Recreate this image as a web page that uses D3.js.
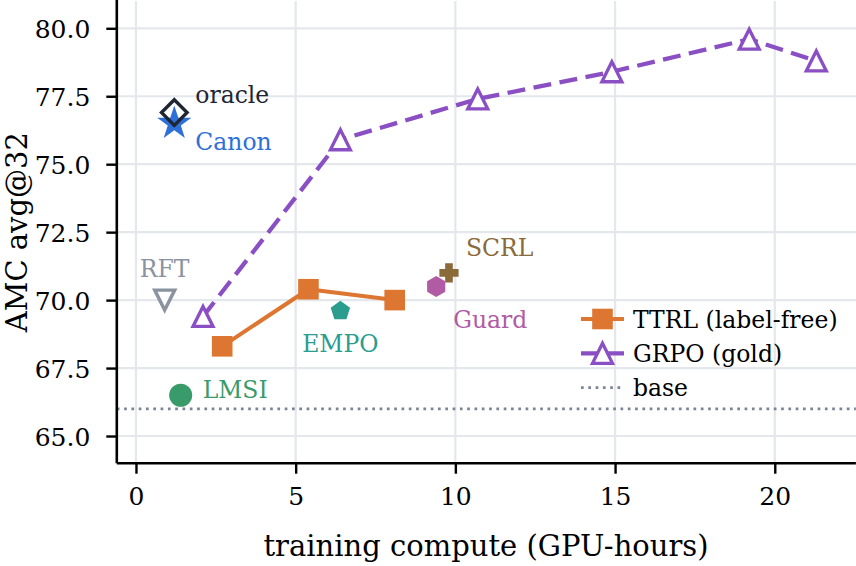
<!DOCTYPE html>
<html><head><meta charset="utf-8">
<script src="https://cdn.jsdelivr.net/npm/d3@7"></script>
<style>
html,body{margin:0;padding:0;background:#fff;}
svg{display:block;}
svg text{font-family:"DejaVu Serif","Liberation Serif","Noto Serif",serif;}
</style>
</head><body>
<svg id="chart" width="856" height="566"></svg>
<script>
// ---------------- data ----------------
const ttrlX = [2.7, 5.4, 8.1];
const ttrlY = [68.3, 70.4, 70.0];
const grpoX = [2.1, 6.4, 10.7, 14.9, 19.2, 21.3];
const grpoY = [69.4, 75.9, 77.4, 78.4, 79.6, 78.8];
const pointNames = ["Canon", "oracle", "RFT", "LMSI", "EMPO", "SCRL", "Guard"];
const pointX = [1.2, 1.2, 0.9, 1.4, 6.4, 9.8, 9.4];
const pointY = [76.5, 76.9, 70.0, 66.5, 69.6, 71.0, 70.5];
const baseValue = 66.0;
const xTicks = [0, 5, 10, 15, 20];
const yTicks = [65, 67.5, 70, 72.5, 75, 77.5, 80];
const legendLabels = ["TTRL (label-free)", "GRPO (gold)", "base"];
const xTitle = "training compute (GPU-hours)";
const yTitle = "AMC avg@32";

// ---------------- styles ----------------
const C = {
  ttrl: "#dd7631", grpo: "#8b4fc4", base: "#7b8494", grid: "#e4e7ec",
  Canon: "#2f6fd8", oracle: "#1f2633", RFT: "#8a939f", LMSI: "#3a9b6a",
  EMPO: "#2a9d8f", SCRL: "#8b6a3a", Guard: "#b05ba4"
};
const style = {
  Canon:  {marker: "star", fill: C.Canon, stroke: "none", r: 18, dx: 21, dy: 27, anchor: "start"},
  oracle: {marker: "diamond", fill: "none", stroke: C.oracle, r: 12.8, sw: 3.4, dx: 21, dy: -10, anchor: "start"},
  RFT:    {marker: "tridown", fill: "#fff", stroke: C.RFT, r: 10, sw: 3.4, dx: 0, dy: -23, anchor: "middle"},
  LMSI:   {marker: "circle", fill: C.LMSI, stroke: "none", r: 11.5, dx: 22, dy: 3, anchor: "start"},
  EMPO:   {marker: "pentagon", fill: C.EMPO, stroke: "none", r: 10.2, dx: 0, dy: 41.5, anchor: "middle"},
  SCRL:   {marker: "plus", fill: C.SCRL, stroke: "none", r: 9.6, dx: 17, dy: -17, anchor: "start"},
  Guard:  {marker: "hexagon", fill: C.Guard, stroke: "none", r: 10.5, dx: 17, dy: 41, anchor: "start"}
};
const FS = {tick: 25, title: 29, ann: 23.5, legend: 23.5};

function poly(pts){ return "M" + pts.map(p => p[0].toFixed(2) + "," + p[1].toFixed(2)).join("L") + "Z"; }
const markers = {
  square: r => poly([[-r,-r],[r,-r],[r,r],[-r,r]]),
  triup: r => poly([[0,-r],[r,r],[-r,r]]),
  tridown: r => poly([[0,r],[r,-r],[-r,-r]]),
  diamond: r => poly([[0,-r],[r,0],[0,r],[-r,0]]),
  circle: r => `M${r},0A${r},${r} 0 1,1 ${-r},0A${r},${r} 0 1,1 ${r},0Z`,
  pentagon: r => poly(d3.range(5).map(i => { const a = -Math.PI/2 + i*2*Math.PI/5; return [r*Math.cos(a), r*Math.sin(a)]; })),
  hexagon: r => poly(d3.range(6).map(i => { const a = -Math.PI/2 + i*Math.PI/3; return [r*Math.cos(a), r*Math.sin(a)]; })),
  star: r => poly(d3.range(10).map(i => { const a = -Math.PI/2 + i*Math.PI/5, rr = i%2 ? r*0.381966 : r; return [rr*Math.cos(a), rr*Math.sin(a)]; })),
  plus: r => { const t = r*0.4; return poly([[-t,-r],[t,-r],[t,-t],[r,-t],[r,t],[t,t],[t,r],[-t,r],[-t,t],[-r,t],[-r,-t],[-t,-t]]); }
};

// ---------------- scales ----------------
const x = d3.scaleLinear().domain([-0.6, 22.54]).range([116.8, 855.9]);
const y = d3.scaleLinear().domain([64, 81]).range([463.2, 1.1]);
const svg = d3.select("#chart");

// grid
const grid = svg.append("g");
grid.selectAll("line.v").data(xTicks).join("line")
  .attr("x1", d => x(d)).attr("x2", d => x(d)).attr("y1", y.range()[1]).attr("y2", y.range()[0])
  .attr("stroke", C.grid).attr("stroke-width", 2.2);
grid.selectAll("line.h").data(yTicks).join("line")
  .attr("y1", d => y(d)).attr("y2", d => y(d)).attr("x1", x.range()[0]).attr("x2", x.range()[1])
  .attr("stroke", C.grid).attr("stroke-width", 2.2);

// base line
svg.append("line")
  .attr("x1", x.range()[0]).attr("x2", x.range()[1]).attr("y1", y(baseValue)).attr("y2", y(baseValue))
  .attr("stroke", C.base).attr("stroke-width", 2.7).attr("stroke-dasharray", "2.7,4.6");

// series lines
const ttrl = ttrlX.map((v, i) => [v, ttrlY[i]]);
const grpo = grpoX.map((v, i) => [v, grpoY[i]]);
const line = d3.line().x(d => x(d[0])).y(d => y(d[1]));
svg.append("path").attr("d", line(ttrl)).attr("fill", "none").attr("stroke", C.ttrl)
  .attr("stroke-width", 4).attr("stroke-linejoin", "round");
svg.append("path").attr("d", line(grpo)).attr("fill", "none").attr("stroke", C.grpo)
  .attr("stroke-width", 4.3).attr("stroke-dasharray", "18,8.5");

// series markers
svg.append("g").selectAll("path").data(ttrl).join("path")
  .attr("transform", d => `translate(${x(d[0])},${y(d[1])})`)
  .attr("d", markers.square(10.3)).attr("fill", C.ttrl);
svg.append("g").selectAll("path").data(grpo).join("path")
  .attr("transform", d => `translate(${x(d[0])},${y(d[1])})`)
  .attr("d", markers.triup(10)).attr("fill", "#fff").attr("stroke", C.grpo).attr("stroke-width", 3.3)
  .attr("stroke-linejoin", "miter");

// single points
const pts = pointNames.map((n, i) => ({name: n, x: pointX[i], y: pointY[i], s: style[n]}));
svg.append("g").selectAll("path").data(pts).join("path")
  .attr("transform", d => `translate(${x(d.x)},${y(d.y)})`)
  .attr("d", d => markers[d.s.marker](d.s.r))
  .attr("fill", d => d.s.fill).attr("stroke", d => d.s.stroke).attr("stroke-width", d => d.s.sw || 0);
svg.append("g").selectAll("text").data(pts).join("text")
  .attr("x", d => x(d.x) + d.s.dx).attr("y", d => y(d.y) + d.s.dy)
  .attr("text-anchor", d => d.s.anchor).attr("font-size", FS.ann)
  .attr("fill", d => C[d.name]).text(d => d.name);

// axes
const xAxis = svg.append("g").attr("transform", `translate(0,${y.range()[0]})`)
  .call(d3.axisBottom(x).tickValues(xTicks).tickFormat(d3.format("d")).tickSize(10.5).tickPadding(12).tickSizeOuter(0));
const yAxis = svg.append("g").attr("transform", `translate(${x.range()[0]},0)`)
  .call(d3.axisLeft(y).tickValues(yTicks).tickFormat(d3.format(".1f")).tickSize(10.5).tickPadding(16).tickSizeOuter(0));
[xAxis, yAxis].forEach(g => {
  g.attr("font-family", null);
  g.select(".domain").attr("stroke", "#000").attr("stroke-width", 2.6);
  g.selectAll(".tick line").attr("stroke", "#000").attr("stroke-width", 2.4);
  g.selectAll(".tick text").attr("font-size", FS.tick).attr("fill", "#000");
});
yAxis.selectAll(".tick text").attr("dy", "0.36em");
xAxis.selectAll(".tick text").attr("dy", "0.76em");
xAxis.select(".domain").attr("d", `M${x.range()[0]},0H${x.range()[1]}`);
yAxis.select(".domain").attr("d", `M0,${y.range()[0]}V${y.range()[1] - 1.1}`);

// axis titles
svg.append("text").attr("x", 486).attr("y", 556).attr("text-anchor", "middle")
  .attr("font-size", FS.title).text(xTitle);
svg.append("text").attr("transform", `translate(27,${(y.range()[0] + y.range()[1]) / 2}) rotate(-90)`)
  .attr("text-anchor", "middle").attr("font-size", FS.title).text(yTitle);

// legend
const legend = svg.append("g");
const rows = [
  {label: legendLabels[0], color: C.ttrl, dash: null, sw: 4, marker: "square", r: 10.3, fill: C.ttrl, msw: 0},
  {label: legendLabels[1], color: C.grpo, dash: null, sw: 4.3, marker: "triup", r: 10, fill: "#fff", msw: 3.3},
  {label: legendLabels[2], color: C.base, dash: "2.7,4.6", sw: 2.7, marker: null}
];
rows.forEach((r, i) => {
  const cy = 319 + i * 34.3;
  legend.append("line").attr("x1", 581).attr("x2", 624).attr("y1", cy).attr("y2", cy)
    .attr("stroke", r.color).attr("stroke-width", r.sw).attr("stroke-dasharray", r.dash);
  if (r.marker) legend.append("path").attr("transform", `translate(602.5,${cy})`)
    .attr("d", markers[r.marker](r.r)).attr("fill", r.fill).attr("stroke", r.msw ? r.color : "none").attr("stroke-width", r.msw);
  legend.append("text").attr("x", 633).attr("y", cy + 8.5).attr("font-size", FS.legend).text(r.label);
});
</script>
</body></html>
